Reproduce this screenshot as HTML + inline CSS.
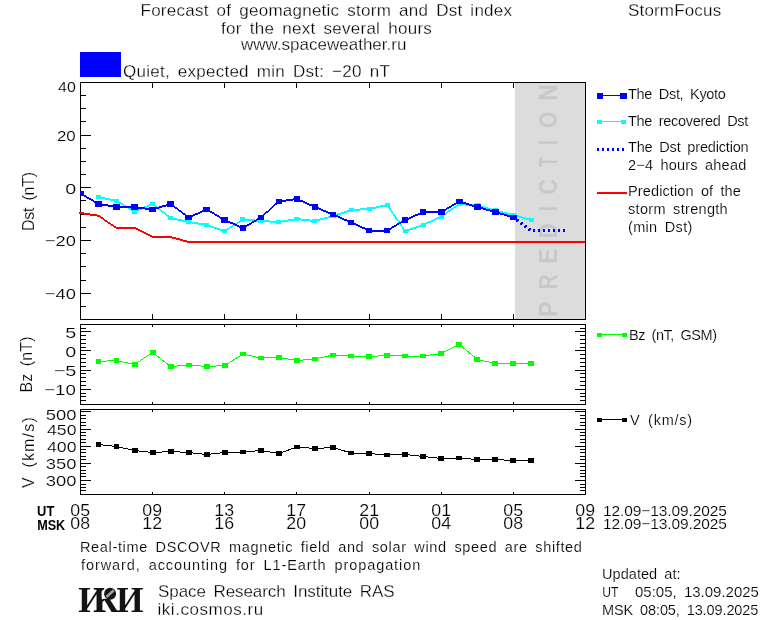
<!DOCTYPE html>
<html><head><meta charset="utf-8"><title>StormFocus - Dst forecast</title><style>
html,body{margin:0;padding:0;background:#fff;overflow:hidden}
svg{display:block}
text{font-family:"Liberation Sans",sans-serif;fill:#000;stroke:#fff;stroke-width:0.17px}
</style></head><body>
<svg width="760" height="620" viewBox="0 0 760 620">
<rect x="0" y="0" width="760" height="620" fill="#fff"/>
<path d="M80 82.5H586M80 319.5H586M80.5 82V320M585.5 82V320M80 324.5H586M80 404.5H586M80.5 324V405M585.5 324V405M80 409.5H586M80 494.5H586M80.5 409V495M585.5 409V495M152.5 82V88M152.5 314V320M224.5 82V88M224.5 314V320M296.5 82V88M296.5 314V320M369.5 82V88M369.5 314V320M441.5 82V88M441.5 314V320M513.5 82V88M513.5 314V320M152.5 324V327M152.5 402V405M224.5 324V327M224.5 402V405M296.5 324V327M296.5 402V405M369.5 324V327M369.5 402V405M441.5 324V327M441.5 402V405M513.5 324V327M513.5 402V405M152.5 409V412M152.5 492V495M224.5 409V412M224.5 492V495M296.5 409V412M296.5 492V495M369.5 409V412M369.5 492V495M441.5 409V412M441.5 492V495M513.5 409V412M513.5 492V495M80 95.5H86M80 108.5H86M80 121.5H86M80 135.5H91M80 148.5H86M80 161.5H86M80 174.5H86M80 187.5H91M80 200.5H86M80 214.5H86M80 227.5H86M80 240.5H91M80 253.5H86M80 266.5H86M80 280.5H86M80 293.5H91M80 306.5H86M80 328.5H86M580 328.5H586M80 331.5H91M575 331.5H586M80 335.5H86M580 335.5H586M80 339.5H86M580 339.5H586M80 343.5H86M580 343.5H586M80 347.5H86M580 347.5H586M80 350.5H91M575 350.5H586M80 354.5H86M580 354.5H586M80 358.5H86M580 358.5H586M80 362.5H86M580 362.5H586M80 366.5H86M580 366.5H586M80 370.5H91M575 370.5H586M80 373.5H86M580 373.5H586M80 377.5H86M580 377.5H586M80 381.5H86M580 381.5H586M80 385.5H86M580 385.5H586M80 389.5H91M575 389.5H586M80 393.5H86M580 393.5H586M80 396.5H86M580 396.5H586M80 400.5H86M580 400.5H586M80 411.5H91M575 411.5H586M80 415.5H86M580 415.5H586M80 418.5H86M580 418.5H586M80 422.5H86M580 422.5H586M80 425.5H86M580 425.5H586M80 429.5H91M575 429.5H586M80 432.5H86M580 432.5H586M80 435.5H86M580 435.5H586M80 439.5H86M580 439.5H586M80 442.5H86M580 442.5H586M80 446.5H91M575 446.5H586M80 449.5H86M580 449.5H586M80 452.5H86M580 452.5H586M80 456.5H86M580 456.5H586M80 459.5H86M580 459.5H586M80 463.5H91M575 463.5H586M80 466.5H86M580 466.5H586M80 470.5H86M580 470.5H586M80 473.5H86M580 473.5H586M80 476.5H86M580 476.5H586M80 480.5H91M575 480.5H586M80 484.5H86M580 484.5H586M80 487.5H86M580 487.5H586M80 490.5H86M580 490.5H586M80 494.5H86M580 494.5H586" stroke="#000" stroke-width="1" fill="none" shape-rendering="crispEdges"/>
<rect x="515" y="83" width="70" height="236" fill="#dcdcdc" shape-rendering="crispEdges"/>
<text transform="translate(557 100.85) rotate(-90)" textLength="16.40" lengthAdjust="spacingAndGlyphs" style="font-weight:bold;font-size:26px;fill:#c8c8c8;stroke:none">N</text>
<text transform="translate(557 127.78) rotate(-90)" textLength="15.74" lengthAdjust="spacingAndGlyphs" style="font-weight:bold;font-size:26px;fill:#c8c8c8;stroke:none">O</text>
<text transform="translate(557 145.05) rotate(-90)" textLength="4.88" lengthAdjust="spacingAndGlyphs" style="font-weight:bold;font-size:26px;fill:#c8c8c8;stroke:none">I</text>
<text transform="translate(557 166.80) rotate(-90)" textLength="9.53" lengthAdjust="spacingAndGlyphs" style="font-weight:bold;font-size:26px;fill:#c8c8c8;stroke:none">T</text>
<text transform="translate(557 194.61) rotate(-90)" textLength="15.25" lengthAdjust="spacingAndGlyphs" style="font-weight:bold;font-size:26px;fill:#c8c8c8;stroke:none">C</text>
<text transform="translate(557 211.20) rotate(-90)" textLength="5.06" lengthAdjust="spacingAndGlyphs" style="font-weight:bold;font-size:26px;fill:#c8c8c8;stroke:none">I</text>
<text transform="translate(557 238.17) rotate(-90)" textLength="14.79" lengthAdjust="spacingAndGlyphs" style="font-weight:bold;font-size:26px;fill:#c8c8c8;stroke:none">D</text>
<text transform="translate(557 263.71) rotate(-90)" textLength="14.87" lengthAdjust="spacingAndGlyphs" style="font-weight:bold;font-size:26px;fill:#c8c8c8;stroke:none">E</text>
<text transform="translate(557 289.40) rotate(-90)" textLength="15.03" lengthAdjust="spacingAndGlyphs" style="font-weight:bold;font-size:26px;fill:#c8c8c8;stroke:none">R</text>
<text transform="translate(557 316.89) rotate(-90)" textLength="15.49" lengthAdjust="spacingAndGlyphs" style="font-weight:bold;font-size:26px;fill:#c8c8c8;stroke:none">P</text>
<defs><clipPath id="cd"><rect x="80" y="82" width="506" height="238"/></clipPath></defs>
<path d="M79.00 211.80L98.54 214.80L98.54 216.80L79.00 213.80ZM98.54 214.80L116.57 227.00L116.57 229.00L98.54 216.80ZM116.57 227.00L134.61 227.00L134.61 229.00L116.57 229.00ZM134.61 227.00L152.64 236.00L152.64 238.00L134.61 229.00ZM152.64 236.00L170.68 236.00L170.68 238.00L152.64 238.00ZM170.68 236.00L188.72 241.00L188.72 243.00L170.68 238.00ZM188.72 241.00L585.00 241.00L585.00 243.00L188.72 243.00Z" fill="#ff0000" shape-rendering="crispEdges"/>
<g clip-path="url(#cd)">
<path d="M98.54 196.00L116.57 200.00L116.57 202.00L98.54 198.00ZM116.57 200.00L134.61 210.50L134.61 212.50L116.57 202.00ZM134.61 210.50L152.64 203.00L152.64 205.00L134.61 212.50ZM152.64 203.00L170.68 217.00L170.68 219.00L152.64 205.00ZM170.68 217.00L188.72 221.00L188.72 223.00L170.68 219.00ZM188.72 221.00L206.75 224.00L206.75 226.00L188.72 223.00ZM206.75 224.00L224.79 230.00L224.79 232.00L206.75 226.00ZM224.79 230.00L242.82 218.50L242.82 220.50L224.79 232.00ZM242.82 218.50L260.86 220.00L260.86 222.00L242.82 220.50ZM260.86 220.00L278.90 221.00L278.90 223.00L260.86 222.00ZM278.90 221.00L296.93 218.00L296.93 220.00L278.90 223.00ZM296.93 218.00L314.97 220.00L314.97 222.00L296.93 220.00ZM314.97 220.00L333.00 215.00L333.00 217.00L314.97 222.00ZM333.00 215.00L351.04 209.00L351.04 211.00L333.00 217.00ZM351.04 209.00L369.08 208.00L369.08 210.00L351.04 211.00ZM369.08 208.00L387.11 204.00L387.11 206.00L369.08 210.00ZM386.11 205.00L404.15 231.00L406.15 231.00L388.11 205.00ZM405.15 230.00L423.18 224.00L423.18 226.00L405.15 232.00ZM423.18 224.00L441.22 215.50L441.22 217.50L423.18 226.00ZM441.22 215.50L459.26 203.00L459.26 205.00L441.22 217.50ZM459.26 203.00L477.29 204.50L477.29 206.50L459.26 205.00ZM477.29 204.50L495.33 209.50L495.33 211.50L477.29 206.50ZM495.33 209.50L513.36 214.00L513.36 216.00L495.33 211.50ZM513.36 214.00L531.40 219.00L531.40 221.00L513.36 216.00Z" fill="#00ffff" shape-rendering="crispEdges"/>
<rect x="96" y="195" width="5" height="4" fill="#00ffff" shape-rendering="crispEdges"/>
<rect x="114" y="199" width="5" height="4" fill="#00ffff" shape-rendering="crispEdges"/>
<rect x="132" y="209" width="5" height="5" fill="#00ffff" shape-rendering="crispEdges"/>
<rect x="150" y="202" width="5" height="4" fill="#00ffff" shape-rendering="crispEdges"/>
<rect x="168" y="216" width="5" height="4" fill="#00ffff" shape-rendering="crispEdges"/>
<rect x="186" y="220" width="5" height="4" fill="#00ffff" shape-rendering="crispEdges"/>
<rect x="204" y="223" width="5" height="4" fill="#00ffff" shape-rendering="crispEdges"/>
<rect x="222" y="229" width="5" height="4" fill="#00ffff" shape-rendering="crispEdges"/>
<rect x="240" y="217" width="5" height="5" fill="#00ffff" shape-rendering="crispEdges"/>
<rect x="258" y="219" width="5" height="4" fill="#00ffff" shape-rendering="crispEdges"/>
<rect x="276" y="220" width="5" height="4" fill="#00ffff" shape-rendering="crispEdges"/>
<rect x="294" y="217" width="5" height="4" fill="#00ffff" shape-rendering="crispEdges"/>
<rect x="312" y="219" width="5" height="4" fill="#00ffff" shape-rendering="crispEdges"/>
<rect x="331" y="214" width="5" height="4" fill="#00ffff" shape-rendering="crispEdges"/>
<rect x="349" y="208" width="5" height="4" fill="#00ffff" shape-rendering="crispEdges"/>
<rect x="367" y="207" width="5" height="4" fill="#00ffff" shape-rendering="crispEdges"/>
<rect x="385" y="203" width="5" height="4" fill="#00ffff" shape-rendering="crispEdges"/>
<rect x="403" y="229" width="5" height="4" fill="#00ffff" shape-rendering="crispEdges"/>
<rect x="421" y="223" width="5" height="4" fill="#00ffff" shape-rendering="crispEdges"/>
<rect x="439" y="214" width="5" height="5" fill="#00ffff" shape-rendering="crispEdges"/>
<rect x="457" y="202" width="5" height="4" fill="#00ffff" shape-rendering="crispEdges"/>
<rect x="475" y="203" width="5" height="5" fill="#00ffff" shape-rendering="crispEdges"/>
<rect x="493" y="208" width="5" height="5" fill="#00ffff" shape-rendering="crispEdges"/>
<rect x="511" y="213" width="5" height="4" fill="#00ffff" shape-rendering="crispEdges"/>
<rect x="529" y="218" width="5" height="4" fill="#00ffff" shape-rendering="crispEdges"/>
<path d="M80.50 192.50L98.54 203.00L98.54 205.00L80.50 194.50ZM98.54 203.00L116.57 206.00L116.57 208.00L98.54 205.00ZM116.57 206.00L134.61 206.00L134.61 208.00L116.57 208.00ZM134.61 206.00L152.64 208.50L152.64 210.50L134.61 208.00ZM152.64 208.50L170.68 203.00L170.68 205.00L152.64 210.50ZM170.68 203.00L188.72 216.50L188.72 218.50L170.68 205.00ZM188.72 216.50L206.75 208.50L206.75 210.50L188.72 218.50ZM206.75 208.50L224.79 219.00L224.79 221.00L206.75 210.50ZM224.79 219.00L242.82 227.00L242.82 229.00L224.79 221.00ZM242.82 227.00L260.86 216.50L260.86 218.50L242.82 229.00ZM260.86 216.50L278.90 200.50L278.90 202.50L260.86 218.50ZM278.90 200.50L296.93 198.00L296.93 200.00L278.90 202.50ZM296.93 198.00L314.97 206.00L314.97 208.00L296.93 200.00ZM314.97 206.00L333.00 213.50L333.00 215.50L314.97 208.00ZM333.00 213.50L351.04 221.50L351.04 223.50L333.00 215.50ZM351.04 221.50L369.08 229.50L369.08 231.50L351.04 223.50ZM369.08 229.50L387.11 229.50L387.11 231.50L369.08 231.50ZM387.11 229.50L405.15 219.00L405.15 221.00L387.11 231.50ZM405.15 219.00L423.18 211.00L423.18 213.00L405.15 221.00ZM423.18 211.00L441.22 211.00L441.22 213.00L423.18 213.00ZM441.22 211.00L459.26 200.50L459.26 202.50L441.22 213.00ZM459.26 200.50L477.29 206.00L477.29 208.00L459.26 202.50ZM477.29 206.00L495.33 211.00L495.33 213.00L477.29 208.00ZM495.33 211.00L513.36 216.50L513.36 218.50L495.33 213.00Z" fill="#0000ff" shape-rendering="crispEdges"/>
<rect x="77" y="191" width="7" height="5" fill="#0000ff" shape-rendering="crispEdges"/>
<rect x="95" y="201" width="7" height="6" fill="#0000ff" shape-rendering="crispEdges"/>
<rect x="113" y="204" width="7" height="6" fill="#0000ff" shape-rendering="crispEdges"/>
<rect x="131" y="204" width="7" height="6" fill="#0000ff" shape-rendering="crispEdges"/>
<rect x="149" y="207" width="7" height="5" fill="#0000ff" shape-rendering="crispEdges"/>
<rect x="167" y="201" width="7" height="6" fill="#0000ff" shape-rendering="crispEdges"/>
<rect x="185" y="215" width="7" height="5" fill="#0000ff" shape-rendering="crispEdges"/>
<rect x="203" y="207" width="7" height="5" fill="#0000ff" shape-rendering="crispEdges"/>
<rect x="221" y="217" width="7" height="6" fill="#0000ff" shape-rendering="crispEdges"/>
<rect x="240" y="225" width="6" height="6" fill="#0000ff" shape-rendering="crispEdges"/>
<rect x="258" y="215" width="6" height="5" fill="#0000ff" shape-rendering="crispEdges"/>
<rect x="276" y="199" width="6" height="5" fill="#0000ff" shape-rendering="crispEdges"/>
<rect x="294" y="196" width="6" height="6" fill="#0000ff" shape-rendering="crispEdges"/>
<rect x="312" y="204" width="6" height="6" fill="#0000ff" shape-rendering="crispEdges"/>
<rect x="330" y="212" width="6" height="5" fill="#0000ff" shape-rendering="crispEdges"/>
<rect x="348" y="220" width="6" height="5" fill="#0000ff" shape-rendering="crispEdges"/>
<rect x="366" y="228" width="6" height="5" fill="#0000ff" shape-rendering="crispEdges"/>
<rect x="384" y="228" width="6" height="5" fill="#0000ff" shape-rendering="crispEdges"/>
<rect x="402" y="217" width="6" height="6" fill="#0000ff" shape-rendering="crispEdges"/>
<rect x="420" y="209" width="6" height="6" fill="#0000ff" shape-rendering="crispEdges"/>
<rect x="438" y="209" width="7" height="6" fill="#0000ff" shape-rendering="crispEdges"/>
<rect x="456" y="199" width="7" height="5" fill="#0000ff" shape-rendering="crispEdges"/>
<rect x="474" y="204" width="7" height="6" fill="#0000ff" shape-rendering="crispEdges"/>
<rect x="492" y="209" width="7" height="6" fill="#0000ff" shape-rendering="crispEdges"/>
<rect x="510" y="215" width="7" height="5" fill="#0000ff" shape-rendering="crispEdges"/>
<path d="M517 219h2v2h-2zM516 220h2v2h-2zM521 222h2v2h-2zM520 223h2v2h-2zM525 225h2v2h-2zM524 226h2v2h-2zM529 228h2v2h-2zM528 229h2v2h-2zM533 229h2v3h-2zM538 229h2v3h-2zM543 229h2v3h-2zM548 229h2v3h-2zM553 229h2v3h-2zM558 229h2v3h-2zM563 229h2v3h-2z" fill="#0000ff" shape-rendering="crispEdges"/>
</g>
<path d="M98.54 361.50 L116.57 360.50 L134.61 364.50 L152.64 352.50 L170.68 366.50 L188.72 365.00 L206.75 366.50 L224.79 365.50 L242.82 354.00 L260.86 358.00 L278.90 357.50 L296.93 360.50 L314.97 359.00 L333.00 355.00 L351.04 356.00 L369.08 356.50 L387.11 355.50 L405.15 356.00 L423.18 356.00 L441.22 353.50 L459.26 344.30 L477.29 359.50 L495.33 363.50 L513.36 363.50 L531.40 363.50" stroke="#00ff00" stroke-width="1" fill="none" shape-rendering="crispEdges"/>
<rect x="96" y="359" width="5" height="5" fill="#00ff00" shape-rendering="crispEdges"/>
<rect x="114" y="358" width="5" height="5" fill="#00ff00" shape-rendering="crispEdges"/>
<rect x="132" y="362" width="6" height="5" fill="#00ff00" shape-rendering="crispEdges"/>
<rect x="150" y="350" width="6" height="5" fill="#00ff00" shape-rendering="crispEdges"/>
<rect x="168" y="364" width="6" height="5" fill="#00ff00" shape-rendering="crispEdges"/>
<rect x="186" y="363" width="6" height="4" fill="#00ff00" shape-rendering="crispEdges"/>
<rect x="204" y="364" width="6" height="5" fill="#00ff00" shape-rendering="crispEdges"/>
<rect x="222" y="363" width="6" height="5" fill="#00ff00" shape-rendering="crispEdges"/>
<rect x="240" y="352" width="6" height="4" fill="#00ff00" shape-rendering="crispEdges"/>
<rect x="258" y="356" width="6" height="4" fill="#00ff00" shape-rendering="crispEdges"/>
<rect x="276" y="355" width="6" height="5" fill="#00ff00" shape-rendering="crispEdges"/>
<rect x="294" y="358" width="6" height="5" fill="#00ff00" shape-rendering="crispEdges"/>
<rect x="312" y="357" width="6" height="4" fill="#00ff00" shape-rendering="crispEdges"/>
<rect x="330" y="353" width="6" height="4" fill="#00ff00" shape-rendering="crispEdges"/>
<rect x="348" y="354" width="6" height="4" fill="#00ff00" shape-rendering="crispEdges"/>
<rect x="366" y="354" width="6" height="5" fill="#00ff00" shape-rendering="crispEdges"/>
<rect x="384" y="353" width="6" height="5" fill="#00ff00" shape-rendering="crispEdges"/>
<rect x="402" y="354" width="6" height="4" fill="#00ff00" shape-rendering="crispEdges"/>
<rect x="420" y="354" width="6" height="4" fill="#00ff00" shape-rendering="crispEdges"/>
<rect x="438" y="351" width="6" height="5" fill="#00ff00" shape-rendering="crispEdges"/>
<rect x="456" y="342" width="6" height="5" fill="#00ff00" shape-rendering="crispEdges"/>
<rect x="474" y="357" width="6" height="5" fill="#00ff00" shape-rendering="crispEdges"/>
<rect x="492" y="361" width="6" height="5" fill="#00ff00" shape-rendering="crispEdges"/>
<rect x="510" y="361" width="6" height="5" fill="#00ff00" shape-rendering="crispEdges"/>
<rect x="528" y="361" width="6" height="5" fill="#00ff00" shape-rendering="crispEdges"/>
<path d="M98.54 444.50 L116.57 446.50 L134.61 450.50 L152.64 452.50 L170.68 451.50 L188.72 452.50 L206.75 454.50 L224.79 452.50 L242.82 452.00 L260.86 450.50 L278.90 453.50 L296.93 447.00 L314.97 448.50 L333.00 447.50 L351.04 453.00 L369.08 453.50 L387.11 455.00 L405.15 454.50 L423.18 456.50 L441.22 458.50 L459.26 458.00 L477.29 459.50 L495.33 459.50 L513.36 460.50 L531.40 460.50" stroke="#000000" stroke-width="1" fill="none" shape-rendering="crispEdges"/>
<rect x="96" y="442" width="5" height="5" fill="#000000" shape-rendering="crispEdges"/>
<rect x="114" y="444" width="5" height="5" fill="#000000" shape-rendering="crispEdges"/>
<rect x="132" y="448" width="6" height="5" fill="#000000" shape-rendering="crispEdges"/>
<rect x="150" y="450" width="6" height="5" fill="#000000" shape-rendering="crispEdges"/>
<rect x="168" y="449" width="6" height="5" fill="#000000" shape-rendering="crispEdges"/>
<rect x="186" y="450" width="6" height="5" fill="#000000" shape-rendering="crispEdges"/>
<rect x="204" y="452" width="6" height="5" fill="#000000" shape-rendering="crispEdges"/>
<rect x="222" y="450" width="6" height="5" fill="#000000" shape-rendering="crispEdges"/>
<rect x="240" y="450" width="6" height="4" fill="#000000" shape-rendering="crispEdges"/>
<rect x="258" y="448" width="6" height="5" fill="#000000" shape-rendering="crispEdges"/>
<rect x="276" y="451" width="6" height="5" fill="#000000" shape-rendering="crispEdges"/>
<rect x="294" y="445" width="6" height="4" fill="#000000" shape-rendering="crispEdges"/>
<rect x="312" y="446" width="6" height="5" fill="#000000" shape-rendering="crispEdges"/>
<rect x="330" y="445" width="6" height="5" fill="#000000" shape-rendering="crispEdges"/>
<rect x="348" y="451" width="6" height="4" fill="#000000" shape-rendering="crispEdges"/>
<rect x="366" y="451" width="6" height="5" fill="#000000" shape-rendering="crispEdges"/>
<rect x="384" y="453" width="6" height="4" fill="#000000" shape-rendering="crispEdges"/>
<rect x="402" y="452" width="6" height="5" fill="#000000" shape-rendering="crispEdges"/>
<rect x="420" y="454" width="6" height="5" fill="#000000" shape-rendering="crispEdges"/>
<rect x="438" y="456" width="6" height="5" fill="#000000" shape-rendering="crispEdges"/>
<rect x="456" y="456" width="6" height="4" fill="#000000" shape-rendering="crispEdges"/>
<rect x="474" y="457" width="6" height="5" fill="#000000" shape-rendering="crispEdges"/>
<rect x="492" y="457" width="6" height="5" fill="#000000" shape-rendering="crispEdges"/>
<rect x="510" y="458" width="6" height="5" fill="#000000" shape-rendering="crispEdges"/>
<rect x="528" y="458" width="6" height="5" fill="#000000" shape-rendering="crispEdges"/>
<rect x="597.00" y="93.00" width="6" height="6" fill="#0000ff" shape-rendering="crispEdges"/>
<rect x="620.00" y="93.00" width="7" height="6" fill="#0000ff" shape-rendering="crispEdges"/>
<path d="M602 95.5H621" stroke="#0000ff" stroke-width="1" shape-rendering="crispEdges"/>
<rect x="597.00" y="120.00" width="5" height="4" fill="#00ffff" shape-rendering="crispEdges"/>
<rect x="621.00" y="120.00" width="5" height="4" fill="#00ffff" shape-rendering="crispEdges"/>
<path d="M601 121.5H622" stroke="#00ffff" stroke-width="1" shape-rendering="crispEdges"/>
<path d="M597 148h2v3h-2zM602 148h2v3h-2zM607 148h2v3h-2zM612 148h2v3h-2zM617 148h2v3h-2zM622 148h2v3h-2z" fill="#0000ff" shape-rendering="crispEdges"/>
<path d="M597 193H627" stroke="#ff0000" stroke-width="2" shape-rendering="crispEdges"/>
<rect x="597.00" y="333.00" width="5" height="4" fill="#00ff00" shape-rendering="crispEdges"/>
<rect x="622.00" y="333.00" width="5" height="4" fill="#00ff00" shape-rendering="crispEdges"/>
<path d="M601 334.5H623" stroke="#00ff00" stroke-width="1" shape-rendering="crispEdges"/>
<rect x="597.00" y="418.00" width="5" height="4" fill="#000" shape-rendering="crispEdges"/>
<rect x="622.00" y="418.00" width="5" height="4" fill="#000" shape-rendering="crispEdges"/>
<path d="M601 419.5H623" stroke="#000" stroke-width="1" shape-rendering="crispEdges"/>
<rect x="80" y="52" width="41" height="25" fill="#0000ff" shape-rendering="crispEdges"/>
<text x="140.50" y="16" textLength="371.50" lengthAdjust="spacing" style="font-size:17px;word-spacing:3.0px;stroke-width:0.27px">Forecast of geomagnetic storm and Dst index</text>
<text x="221.00" y="34" textLength="210.83" lengthAdjust="spacing" style="font-size:17px;word-spacing:3.0px;stroke-width:0.27px">for the next several hours</text>
<text x="241.00" y="50" textLength="165.38" lengthAdjust="spacing" style="font-size:17px;word-spacing:3.0px;stroke-width:0.27px">www.spaceweather.ru</text>
<text x="628.00" y="16" textLength="93.14" lengthAdjust="spacing" style="font-size:17px;word-spacing:3.0px;stroke-width:0.27px">StormFocus</text>
<text x="123.00" y="77" textLength="266.77" lengthAdjust="spacing" style="font-size:17px;word-spacing:3.0px;stroke-width:0.27px">Quiet, expected min Dst: −20 nT</text>
<text x="628.00" y="99" textLength="97.91" lengthAdjust="spacing" style="font-size:14.5px;word-spacing:3.0px">The Dst, Kyoto</text>
<text x="628.00" y="126" textLength="120.28" lengthAdjust="spacing" style="font-size:14.5px;word-spacing:3.0px">The recovered Dst</text>
<text x="628.00" y="152" textLength="120.67" lengthAdjust="spacing" style="font-size:14.5px;word-spacing:3.0px">The Dst prediction</text>
<text x="628.00" y="170" textLength="118.25" lengthAdjust="spacing" style="font-size:14.5px;word-spacing:3.0px">2−4 hours ahead</text>
<text x="628.00" y="196" textLength="112.80" lengthAdjust="spacing" style="font-size:14.5px;word-spacing:3.0px">Prediction of the</text>
<text x="628.00" y="214" textLength="99.67" lengthAdjust="spacing" style="font-size:14.5px;word-spacing:3.0px">storm strength</text>
<text x="628.00" y="232" textLength="64.31" lengthAdjust="spacing" style="font-size:14.5px;word-spacing:3.0px">(min Dst)</text>
<text x="629.00" y="340" textLength="88.02" lengthAdjust="spacing" style="font-size:14.5px;word-spacing:3.0px">Bz (nT, GSM)</text>
<text x="630.00" y="425" textLength="61.97" lengthAdjust="spacing" style="font-size:14.5px;word-spacing:3.0px">V (km/s)</text>
<text x="80.00" y="552" textLength="501.91" lengthAdjust="spacing" style="font-size:14.5px;word-spacing:3.0px">Real-time DSCOVR magnetic field and solar wind speed are shifted</text>
<text x="81.00" y="570" textLength="339.27" lengthAdjust="spacing" style="font-size:14.5px;word-spacing:3.0px">forward, accounting for L1-Earth propagation</text>
<text x="158.00" y="597" textLength="236.62" lengthAdjust="spacing" style="font-size:17px;word-spacing:3.0px;stroke-width:0.27px">Space Research Institute RAS</text>
<text x="157.50" y="615" textLength="105.69" lengthAdjust="spacing" style="font-size:17px;word-spacing:3.0px;stroke-width:0.27px">iki.cosmos.ru</text>
<text x="602.00" y="579" textLength="78.48" lengthAdjust="spacing" style="font-size:14.5px;word-spacing:3.0px">Updated at:</text>
<text x="602.17" y="597" textLength="16.12" lengthAdjust="spacingAndGlyphs" style="font-size:14.5px;word-spacing:3.0px">UT</text>
<text x="635.00" y="597" textLength="123.95" lengthAdjust="spacingAndGlyphs" style="font-size:14.5px;word-spacing:3.0px">05:05, 13.09.2025</text>
<text x="602.00" y="615" textLength="156.38" lengthAdjust="spacing" style="font-size:14.5px;word-spacing:3.0px">MSK 08:05, 13.09.2025</text>
<text x="603.00" y="516" textLength="123.92" lengthAdjust="spacing" style="font-size:15.5px;word-spacing:3.0px">12.09−13.09.2025</text>
<text x="603.00" y="529" textLength="123.92" lengthAdjust="spacing" style="font-size:15.5px;word-spacing:3.0px">12.09−13.09.2025</text>
<text x="37.11" y="516" textLength="17.19" lengthAdjust="spacingAndGlyphs" style="font-size:14.5px;word-spacing:0px;font-weight:bold;stroke:none">UT</text>
<text x="37.13" y="530" textLength="28.08" lengthAdjust="spacingAndGlyphs" style="font-size:14.5px;word-spacing:0px;font-weight:bold;stroke:none">MSK</text>
<text x="70.38" y="516" textLength="19.78" lengthAdjust="spacingAndGlyphs" style="font-size:15.8px;word-spacing:3.0px">05</text>
<text x="70.38" y="529" textLength="19.78" lengthAdjust="spacingAndGlyphs" style="font-size:15.8px;word-spacing:3.0px">08</text>
<text x="142.38" y="516" textLength="19.78" lengthAdjust="spacingAndGlyphs" style="font-size:15.8px;word-spacing:3.0px">09</text>
<text x="142.38" y="529" textLength="19.78" lengthAdjust="spacingAndGlyphs" style="font-size:15.8px;word-spacing:3.0px">12</text>
<text x="214.38" y="516" textLength="19.78" lengthAdjust="spacingAndGlyphs" style="font-size:15.8px;word-spacing:3.0px">13</text>
<text x="214.38" y="529" textLength="19.78" lengthAdjust="spacingAndGlyphs" style="font-size:15.8px;word-spacing:3.0px">16</text>
<text x="286.38" y="516" textLength="19.78" lengthAdjust="spacingAndGlyphs" style="font-size:15.8px;word-spacing:3.0px">17</text>
<text x="286.38" y="529" textLength="19.78" lengthAdjust="spacingAndGlyphs" style="font-size:15.8px;word-spacing:3.0px">20</text>
<text x="359.38" y="516" textLength="19.78" lengthAdjust="spacingAndGlyphs" style="font-size:15.8px;word-spacing:3.0px">21</text>
<text x="359.38" y="529" textLength="19.78" lengthAdjust="spacingAndGlyphs" style="font-size:15.8px;word-spacing:3.0px">00</text>
<text x="431.38" y="516" textLength="19.78" lengthAdjust="spacingAndGlyphs" style="font-size:15.8px;word-spacing:3.0px">01</text>
<text x="431.38" y="529" textLength="19.78" lengthAdjust="spacingAndGlyphs" style="font-size:15.8px;word-spacing:3.0px">04</text>
<text x="503.38" y="516" textLength="19.78" lengthAdjust="spacingAndGlyphs" style="font-size:15.8px;word-spacing:3.0px">05</text>
<text x="503.38" y="529" textLength="19.78" lengthAdjust="spacingAndGlyphs" style="font-size:15.8px;word-spacing:3.0px">08</text>
<text x="575.38" y="516" textLength="19.78" lengthAdjust="spacingAndGlyphs" style="font-size:15.8px;word-spacing:3.0px">09</text>
<text x="575.38" y="529" textLength="19.78" lengthAdjust="spacingAndGlyphs" style="font-size:15.8px;word-spacing:3.0px">12</text>
<text x="58.00" y="92" textLength="17.76" lengthAdjust="spacingAndGlyphs" style="font-size:15.5px;word-spacing:3.0px">40</text>
<text x="56.91" y="141" textLength="18.87" lengthAdjust="spacingAndGlyphs" style="font-size:15.5px;word-spacing:3.0px">20</text>
<text x="65.33" y="194" textLength="10.97" lengthAdjust="spacingAndGlyphs" style="font-size:15.5px;word-spacing:3.0px">0</text>
<text x="44.82" y="246" textLength="31.03" lengthAdjust="spacingAndGlyphs" style="font-size:15.5px;word-spacing:3.0px">−20</text>
<text x="44.82" y="299" textLength="31.03" lengthAdjust="spacingAndGlyphs" style="font-size:15.5px;word-spacing:3.0px">−40</text>
<text x="65.33" y="337.5" textLength="10.97" lengthAdjust="spacingAndGlyphs" style="font-size:15.5px;word-spacing:3.0px">5</text>
<text x="65.33" y="357" textLength="10.97" lengthAdjust="spacingAndGlyphs" style="font-size:15.5px;word-spacing:3.0px">0</text>
<text x="53.72" y="376" textLength="22.66" lengthAdjust="spacingAndGlyphs" style="font-size:15.5px;word-spacing:3.0px">−5</text>
<text x="44.09" y="395" textLength="31.77" lengthAdjust="spacingAndGlyphs" style="font-size:15.5px;word-spacing:3.0px">−10</text>
<text x="45.81" y="419.5" textLength="30.73" lengthAdjust="spacingAndGlyphs" style="font-size:15.5px;word-spacing:3.0px">500</text>
<text x="47.00" y="435" textLength="29.50" lengthAdjust="spacingAndGlyphs" style="font-size:15.5px;word-spacing:3.0px">450</text>
<text x="47.00" y="452" textLength="29.50" lengthAdjust="spacingAndGlyphs" style="font-size:15.5px;word-spacing:3.0px">400</text>
<text x="45.81" y="469" textLength="30.73" lengthAdjust="spacingAndGlyphs" style="font-size:15.5px;word-spacing:3.0px">350</text>
<text x="45.81" y="485.5" textLength="30.73" lengthAdjust="spacingAndGlyphs" style="font-size:15.5px;word-spacing:3.0px">300</text>
<text transform="translate(33.5 231.00) rotate(-90)" x="0" y="0" textLength="58.98" lengthAdjust="spacing" style="font-size:16px;word-spacing:3.0px">Dst (nT)</text>
<text transform="translate(31.5 392.60) rotate(-90)" x="0" y="0" textLength="56.15" lengthAdjust="spacing" style="font-size:16px;word-spacing:3.0px">Bz (nT)</text>
<text transform="translate(34 488.00) rotate(-90)" x="0" y="0" textLength="70.75" lengthAdjust="spacing" style="font-size:16px;word-spacing:3.0px">V (km/s)</text>
<text y="612.2" style="font-family:'Liberation Serif',serif;font-weight:bold;font-size:35px;fill:#141414;stroke:none"><tspan x="78.3">И</tspan><tspan x="93.6">К</tspan><tspan x="116.3">И</tspan></text>
<path d="M104.2 586H117.2V598.8H101.6V591.2H104.2Z" fill="#fff"/>
<circle cx="110.1" cy="593.7" r="6" fill="#141414"/>
<path d="M106.4 597.0 L113.8 590.2" stroke="#a0a0a0" stroke-width="2.6"/>
</svg>
</body></html>
